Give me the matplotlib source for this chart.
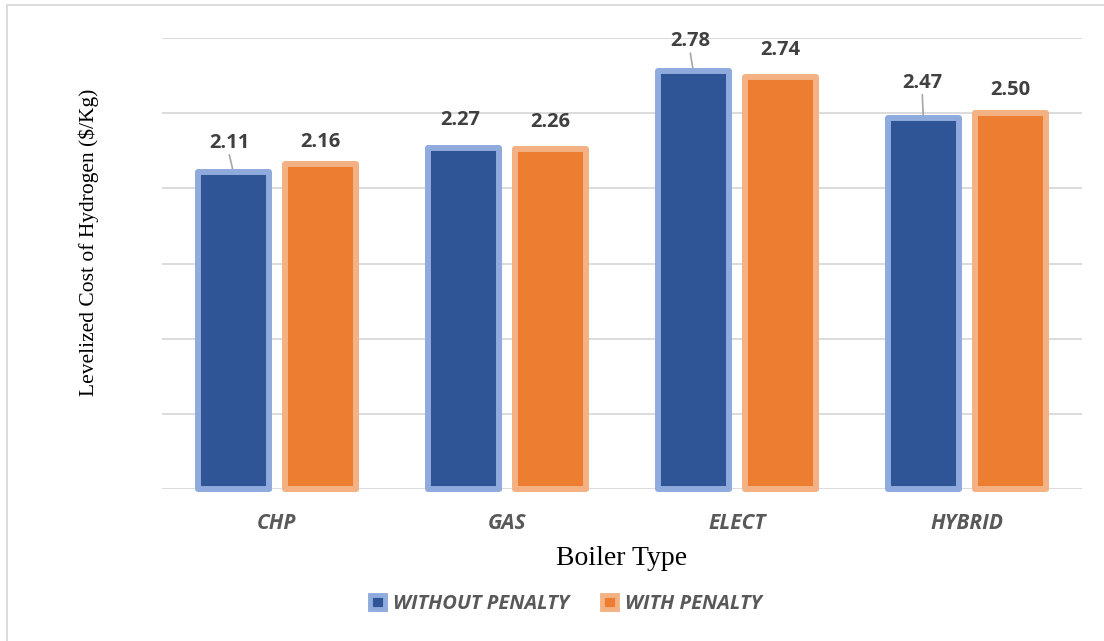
import numpy as np
import matplotlib
matplotlib.use("Agg")
import matplotlib.pyplot as plt
import matplotlib.patheffects as pe
from matplotlib.patches import Patch
from matplotlib.lines import Line2D

boilers = ["CHP", "GAS", "ELECT", "HYBRID"]
without_penalty = [2.11, 2.27, 2.78, 2.47]
with_penalty = [2.16, 2.26, 2.74, 2.50]
series_names = ["WITHOUT PENALTY", "WITH PENALTY"]

BLUE, BLUE_EDGE = "#2F5597", "#8FAADC"
ORANGE, ORANGE_EDGE = "#ED7D31", "#F4B183"
GRID = "#D9D9D9"
LABEL_FONT = "Open Sans"

# label offsets above bar top (px) and whether a leader line is drawn
blue_off = [(-4, 29), (-3, 28), (-3, 30), (-1, 35)]
blue_leader = [True, False, True, True]
orange_off = [(0, 22), (0, 27), (0, 27), (0, 23)]

fig = plt.figure(figsize=(11.04, 6.41), dpi=100)
ax = fig.add_axes([162 / 1104, 1 - 489 / 641, 920 / 1104, 451 / 641])

x = np.arange(len(boilers))
off, w = 0.19, 0.309
shadow = [pe.SimplePatchShadow(offset=(2, -1.5), shadow_rgbFace="#000000", alpha=0.18),
          pe.Normal()]
b1 = ax.bar(x - off, without_penalty, w, color=BLUE, edgecolor=BLUE_EDGE,
            linewidth=4.3, joinstyle="round", zorder=3, clip_on=False)
b2 = ax.bar(x + off, with_penalty, w, color=ORANGE, edgecolor=ORANGE_EDGE,
            linewidth=4.3, joinstyle="round", zorder=3, clip_on=False)
for p in list(b1) + list(b2):
    p.set_path_effects(shadow)

# data labels
for xi, v, (dx, dy), lead in zip(x - off, without_penalty, blue_off, blue_leader):
    ax.annotate(f"{v:.2f}", (xi, v), xytext=(dx * 0.72, dy * 0.72), textcoords="offset points",
                ha="center", va="center", fontsize=14.5, fontweight="bold",
                family=LABEL_FONT, color="#404040", annotation_clip=False, zorder=5)
    if lead:
        ax.annotate("", (xi, v), xytext=(dx * 0.72, (dy - 12) * 0.72),
                    textcoords="offset points", annotation_clip=False,
                    arrowprops=dict(arrowstyle="-", color="#A6A6A6", lw=1.2,
                                    shrinkA=0, shrinkB=2))
for xi, v, (dx, dy) in zip(x + off, with_penalty, orange_off):
    ax.annotate(f"{v:.2f}", (xi, v), xytext=(dx * 0.72, dy * 0.72), textcoords="offset points",
                ha="center", va="center", fontsize=14.5, fontweight="bold",
                family=LABEL_FONT, color="#404040", annotation_clip=False, zorder=5)

ax.set_xlim(-0.5, len(boilers) - 0.5)
ax.set_ylim(0, 3.0)
ax.set_yticks(np.arange(0, 3.01, 0.5))
ax.set_yticklabels([])
ax.tick_params(axis="y", length=0)
ax.yaxis.grid(True, color=GRID, linewidth=1.3, zorder=0)
ax.set_axisbelow(True)
for s in ax.spines.values():
    s.set_visible(False)

ax.set_xticks(x)
ax.set_xticklabels(boilers, fontsize=15, family=LABEL_FONT, fontstyle="italic",
                   fontweight="bold", color="#595959")
ax.tick_params(axis="x", length=0, pad=17)

ax.set_xlabel("Boiler Type", family="Liberation Serif", fontsize=20, labelpad=9)
ax.set_ylabel("Levelized Cost of Hydrogen ($/Kg)", family="Liberation Serif", fontsize=15.5)
ax.yaxis.set_label_coords(-0.068, 0.548)

handles = [Patch(facecolor=BLUE, edgecolor=BLUE_EDGE, linewidth=3.5, joinstyle="round"),
           Patch(facecolor=ORANGE, edgecolor=ORANGE_EDGE, linewidth=3.5, joinstyle="round")]
leg = fig.legend(handles, series_names, loc="center", bbox_to_anchor=(566 / 1104, 1 - 604 / 641),
                 ncol=2, frameon=False, handlelength=0.75, handleheight=0.75,
                 handletextpad=0.4, columnspacing=1.6,
                 prop=dict(family=LABEL_FONT, style="italic", weight="bold", size=14.5))
for t in leg.get_texts():
    t.set_color("#595959")

# chart area frame (top and left edges)
fig.add_artist(Line2D([7 / 1104, 7 / 1104], [0, 1 - 5 / 641], transform=fig.transFigure,
                      color=GRID, lw=1.3))
fig.add_artist(Line2D([7 / 1104, 1], [1 - 5 / 641, 1 - 5 / 641], transform=fig.transFigure,
                      color=GRID, lw=1.3))

fig.savefig("out.png", dpi=100)
